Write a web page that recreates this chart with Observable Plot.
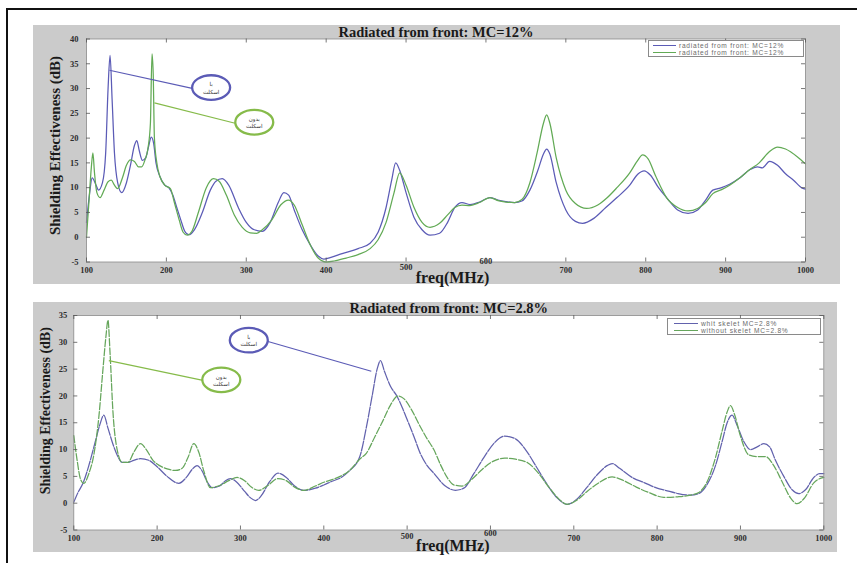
<!DOCTYPE html>
<html><head><meta charset="utf-8">
<script src="https://cdn.jsdelivr.net/npm/d3@7"></script>
<script src="https://cdn.jsdelivr.net/npm/@observablehq/plot@0.6"></script>
<style>
body{margin:0;background:#fff;width:857px;height:563px;overflow:hidden;position:relative;font-family:"Liberation Serif",serif}
#frame{position:absolute;left:6px;top:8px;width:900px;height:600px;border-left:2px solid #111;border-top:2px solid #111}
.panel{position:absolute}
.legend{position:absolute;background:#fff;border:1px solid #8a8a8a;font:6.6px "Liberation Sans",Arial,sans-serif;letter-spacing:0.75px;color:#6a6a6a;box-sizing:border-box;padding-top:1px}
.legend .row{display:flex;align-items:center;height:7px;white-space:nowrap}
.legend .sw{display:inline-block;height:0;border-top:1px solid}
</style></head><body>
<div id="frame"></div>
<div id="top" class="panel" style="left:33px;top:25px"></div>
<div id="bot" class="panel" style="left:33px;top:302px"></div>
<div id="legTop" class="legend" style="left:648px;top:40px;width:156px;height:17px"></div>
<div id="legBot" class="legend" style="left:667px;top:318px;width:154px;height:17px"></div>
<script>
// ---- tick labels ----
const xTicks = [100,200,300,400,500,600,700,800,900,1000];
const yTicksTop = [-5,0,5,10,15,20,25,30,35,40];
const yTicksBot = [-5,0,5,10,15,20,25,30,35];
const titles = ["Radiated from front: MC=12%", "Radiated from front: MC=2.8%"];
const xLabel = "freq(MHz)";
const yLabel = "Shielding Effectiveness (dB)";
const legendTop = ["radiated from front: MC=12%", "radiated from front: MC=12%"];
const legendBot = ["whit skelet  MC=2.8%", "without skelet  MC=2.8%"];
const calloutWith = "با\nاسکلت";
const calloutWithout = "بدون\nاسکلت";
const blue = "#5b5bb6", green = "#62aa55";

// ---- top chart (MC=12%): [freq MHz, dB] ----
const topWith = [[100,3],[104,9],[107,12],[112,10.5],[115,9.5],[120,11],[124,17],[127,30],[129.5,36.7],[132,28],[135,17],[139,11],[144,9],[150,11],[155,14.5],[160,18.5],[163,19.5],[166,17.5],[170,15.5],[174,16],[178,18.5],[181,20.2],[184,19],[187,15],[192,12.2],[198,10.5],[203,10],[208,8.5],[213,6],[218,3.5],[223,1.2],[228,0.5],[235,1.5],[245,5],[255,9.5],[262,11.3],[270,11.8],[278,10.5],[290,6],[300,3],[310,1.5],[320,1.2],[330,3],[340,7],[347,9],[353,8.5],[360,5.5],[370,1.5],[380,-1.5],[390,-3.8],[397,-4.4],[405,-4.1],[420,-3.3],[440,-2.3],[455,-1.2],[465,1],[475,6],[482,11.5],[487,15],[492,13.5],[500,9],[510,4],[520,1.5],[530,0.4],[542,0.8],[552,3],[561,6],[570,7],[580,6.6],[592,7.1],[605,8],[615,7.5],[625,7.2],[636,7],[645,7.3],[655,9.5],[665,13.5],[672,16.8],[676,17.8],[680,16.8],[688,11],[700,5.5],[712,3.2],[721,2.8],[735,3.8],[750,6],[764,8],[780,10.5],[790,12.7],[798,13.4],[806,12.5],[816,10],[826,8],[840,5.5],[853,4.8],[865,5.5],[875,7.5],[884,9.5],[895,10],[905,10.7],[918,12],[930,13.6],[940,14.2],[946,14],[955,15.3],[965,14.5],[975,12.8],[985,11.5],[996,9.9],[1000,9.7]];
const topWithout = [[100,0],[103,7],[106,14],[108,17],[110,13],[113,9],[117,8],[122,9.5],[127,11.2],[131,11.5],[135,10.5],[139,9.8],[145,12],[150,14.5],[155,15.6],[160,15.3],[165,14.2],[169,14.2],[173,15.5],[177,18],[180,23],[182,37],[183.5,33],[185,20],[188,15],[192,12.2],[198,10.5],[205,9.8],[210,7],[216,3.5],[221,1],[226,0.4],[232,1.2],[240,5],[250,10],[259,11.8],[266,11.3],[275,8.5],[285,4.5],[295,2],[305,0.9],[313,0.8],[320,1.5],[332,3.5],[343,6.5],[353,7.5],[360,6.5],[370,2.5],[380,-1.5],[390,-4.2],[400,-5],[410,-4.8],[425,-4.2],[440,-3.5],[455,-2.3],[465,-0.5],[475,3],[485,9],[492,13],[500,10.5],[510,6],[520,3],[530,2],[542,2.8],[552,4.5],[561,6],[570,6.5],[580,6.4],[592,7],[605,8],[615,7.4],[625,7.1],[636,7],[645,7.6],[655,11],[664,17],[672,23],[676,24.7],[680,23],[688,16],[700,9.5],[712,6.8],[726,5.8],[740,6.5],[752,8],[764,10],[780,13],[790,15.5],[796,16.6],[803,15.8],[812,12.5],[826,8],[840,6],[853,5.3],[865,5.8],[875,7],[884,8.8],[895,9.6],[905,10.5],[918,12],[930,13.6],[942,15],[955,17.3],[965,18.2],[975,17.8],[990,16.2],[1000,14.8]];

// ---- bottom chart (MC=2.8%): [freq MHz, dB] ----
const botWith = [[100,0.2],[105,2],[111,3.7],[118,7],[125,11],[131,14.5],[136,16.4],[141,14],[147,11],[152,9],[158,7.6],[165,7.6],[172,8],[180,8.3],[190,8],[200,6.8],[212,5],[226,3.7],[235,4.8],[242,6.3],[248,7],[254,6],[260,4],[266,2.9],[275,3.2],[282,4.2],[288,4.6],[295,4],[305,2.2],[312,1],[318,0.5],[325,1.4],[335,4],[345,5.6],[355,4.8],[365,3.2],[376,2.4],[390,2.8],[400,3.4],[410,4.1],[421,4.8],[431,6.1],[443,8.6],[451,14.1],[458,20],[464,25],[468,26.6],[473,24.5],[480,21.8],[488,19.9],[495,17.5],[500,15.6],[508,12.5],[516,9.2],[524,7],[532,5.6],[545,3.3],[558,2.4],[568,2.8],[580,5.5],[592,8.5],[605,11.3],[617,12.5],[630,12],[642,10],[655,6.8],[668,3.5],[680,1],[692,-0.2],[704,0.8],[716,3],[728,5.3],[740,7],[746,7.4],[755,6.5],[770,4.8],[785,3.8],[800,2.8],[810,2.4],[825,1.8],[840,1.5],[850,1.8],[860,3.5],[870,7],[878,11.5],[884,15],[890,16.4],[896,14.5],[904,11.5],[912,10],[920,10.5],[928,11.1],[935,10.5],[942,8],[952,5],[962,2.5],[970,1.8],[978,2.5],[988,4.8],[995,5.5],[1000,5.5]];
const botWithout = [[100,12.6],[104,8],[108,4.5],[112,3.7],[118,5.5],[124,9],[130,16],[135,25],[138.5,31],[141,34.1],[143.5,28],[147,17],[152,10],[158,7.6],[165,7.6],[172,9.5],[180,11.1],[187,10],[195,8],[203,7],[212,6.4],[222,6.1],[230,6.5],[237,8.5],[244,11.1],[250,9.5],[256,6],[264,2.9],[275,3.3],[286,4.2],[296,4.8],[305,4.2],[313,3],[322,2.4],[332,3.2],[345,4.6],[355,4.2],[365,3],[376,2.4],[390,3.2],[400,3.9],[410,4.4],[421,5.1],[431,6.1],[443,8.2],[451,9.3],[461,12.3],[471,15.4],[480,18.3],[489,20],[496,19.5],[505,17.5],[515,14.5],[524,12],[532,10],[540,7.2],[548,4.8],[556,3.4],[566,3.2],[578,4.5],[590,6.3],[603,7.8],[617,8.4],[630,8.2],[645,7.5],[658,5.5],[670,3],[682,0.8],[692,-0.2],[704,0.6],[716,2.2],[730,3.8],[746,4.9],[760,4.2],[775,3],[790,2],[808,1.1],[825,1.2],[840,1.5],[850,2],[860,4],[870,8.5],[878,13.5],[884,17],[888,18.2],[893,16.5],[900,12.5],[910,9],[920,8.7],[930,8.7],[940,7],[950,4],[960,1],[968,-0.1],[977,1],[988,3.8],[1000,4.8]];

// ---- callouts: leader line (x1,y1)->(x2,y2), ellipse centre (cx,cy) ----
const topCallouts = [
  {x1:128.75, y1:33.7, x2:233.75, y2:30.0, cx:256, cy:30.2, text:calloutWith, color:blue},
  {x1:185, y1:27.1, x2:286, y2:23.0, cx:310, cy:23.2, text:calloutWithout, color:"#86bb4a"}
];
const botCallouts = [
  {x1:457, y1:24.6, x2:332, y2:30.2, cx:310, cy:30.4, text:calloutWith, color:blue},
  {x1:142, y1:26.6, x2:255, y2:22.9, cx:277, cy:23.0, text:calloutWithout, color:"#86bb4a"}
];

function ellipseSym(rx, ry) {
  const k = 0.5523;
  return {draw(c) {
    c.moveTo(rx, 0);
    c.bezierCurveTo(rx, ry*k, rx*k, ry, 0, ry);
    c.bezierCurveTo(-rx*k, ry, -rx, ry*k, -rx, 0);
    c.bezierCurveTo(-rx, -ry*k, -rx*k, -ry, 0, -ry);
    c.bezierCurveTo(rx*k, -ry, rx, -ry*k, rx, 0);
    c.closePath();
  }};
}

function panel(o) {
  const pw = o.width - o.mL - o.mR, ph = o.height - o.mT - o.mB;
  const serif = "Liberation Serif";
  const tickText = {tickSize: 0, tickFormat: d => String(d), label: null, fontSize: 8.5, fontWeight: "bold", fontFamily: serif};
  const normalTicks = xTicks.filter(t => t !== 500 && t !== 600);
  const marks = [Plot.frame({fill: "white"})];
  for (const s of o.series) {
    marks.push(Plot.line(s.data, {x: d => d[0], y: d => d[1], stroke: s.color, strokeWidth: 1.25, curve: "monotone-x", strokeDasharray: s.dash}));
  }
  for (const c of o.callouts) {
    marks.push(Plot.link([c], {x1: "x1", y1: "y1", x2: "x2", y2: "y2", stroke: c.color, strokeWidth: 1.2}));
    marks.push(Plot.dot([c], {x: "cx", y: "cy", symbol: ellipseSym(19, 12.3), r: 5, stroke: c.color, strokeWidth: 2.3, fill: "white"}));
    marks.push(Plot.text([c], {x: "cx", y: "cy", text: "text", fontSize: 5.5, lineHeight: 1.35, fontFamily: "DejaVu Sans", fill: "#333"}));
  }
  marks.push(
    Plot.frame({stroke: "#8a8a8a", strokeWidth: 0.8}),
    Plot.ruleX(xTicks, {x: d => d, insetTop: ph - 4, stroke: "#555", strokeWidth: 0.8}),
    Plot.ruleX(xTicks, {x: d => d, insetBottom: ph - 4, stroke: "#555", strokeWidth: 0.8}),
    Plot.ruleY(o.yTicks, {y: d => d, insetRight: pw - 4, stroke: "#555", strokeWidth: 0.8}),
    Plot.ruleY(o.yTicks, {y: d => d, insetLeft: pw - 4, stroke: "#555", strokeWidth: 0.8}),
    Plot.axisX({...tickText, ticks: normalTicks, tickPadding: 5}),
    Plot.axisX({...tickText, ticks: [500], tickPadding: o.pad500}),
    Plot.axisX({...tickText, ticks: [600], tickPadding: o.pad600}),
    Plot.axisY({...tickText, ticks: o.yTicks, tickPadding: o.yPad}),
    Plot.text([o.title], {text: d => d, frameAnchor: "top", lineAnchor: "middle", textAnchor: "middle", dx: o.titleDx, dy: -7, fontSize: 14.5, fontWeight: "bold", fontFamily: serif, fill: "#1a1a1a"}),
    Plot.text([xLabel], {text: d => d, frameAnchor: "bottom", lineAnchor: "middle", textAnchor: "middle", dx: o.xlabDx, dy: o.xlabDy, fontSize: 16, fontWeight: "bold", fontFamily: serif, fill: "#1a1a1a"}),
    Plot.text([yLabel], {text: d => d, frameAnchor: "left", lineAnchor: "middle", textAnchor: "middle", rotate: -90, dx: o.ylabDx, dy: o.ylabDy, fontSize: o.ylabSize, fontWeight: "bold", fontFamily: serif, fill: "#1a1a1a"})
  );
  return Plot.plot({
    width: o.width, height: o.height,
    marginLeft: o.mL, marginRight: o.mR, marginTop: o.mT, marginBottom: o.mB,
    x: {domain: [100, 1000]},
    y: {domain: o.yDomain},
    style: {background: "#cbcbcb", color: "#2e2e2e", overflow: "visible"},
    marks
  });
}

document.getElementById("top").append(panel({
  width: 807, height: 259, mL: 53, mR: 35, mT: 13.5, mB: 22.5,
  yDomain: [-5, 40], yTicks: yTicksTop, yPad: 8, title: titles[0],
  pad500: 2, pad600: -4,
  titleDx: -10, xlabDx: 6.5, xlabDy: 16, ylabDx: -31, ylabDy: -5, ylabSize: 15,
  series: [{data: topWith, color: blue}, {data: topWithout, color: green}],
  callouts: topCallouts
}));
document.getElementById("bot").append(panel({
  width: 804, height: 250, mL: 40.3, mR: 13.7, mT: 13, mB: 22.5,
  yDomain: [-5, 35], yTicks: yTicksBot, yPad: 6.5, title: titles[1],
  pad500: 2.5, pad600: -0.5,
  titleDx: 0, xlabDx: 4, xlabDy: 16, ylabDx: -28.3, ylabDy: -12, ylabSize: 14,
  series: [{data: botWith, color: "#6262ad", dash: "10,1.5"}, {data: botWithout, color: "#66a65c", dash: "7,2"}],
  callouts: botCallouts
}));

function legend(id, labels, colors, lead, swW) {
  const el = document.getElementById(id);
  labels.forEach((t, i) => {
    const row = document.createElement("div"); row.className = "row";
    const sw = document.createElement("span"); sw.className = "sw";
    sw.style.borderTopColor = colors[i]; sw.style.width = swW + "px";
    sw.style.marginLeft = lead + "px"; sw.style.marginRight = "3px";
    const tx = document.createElement("span"); tx.textContent = t;
    row.append(sw, tx); el.append(row);
  });
}
legend("legTop", legendTop, [blue, green], 4, 23);
legend("legBot", legendBot, ["#6262ad", "#66a65c"], 6, 24);
</script>
</body></html>
